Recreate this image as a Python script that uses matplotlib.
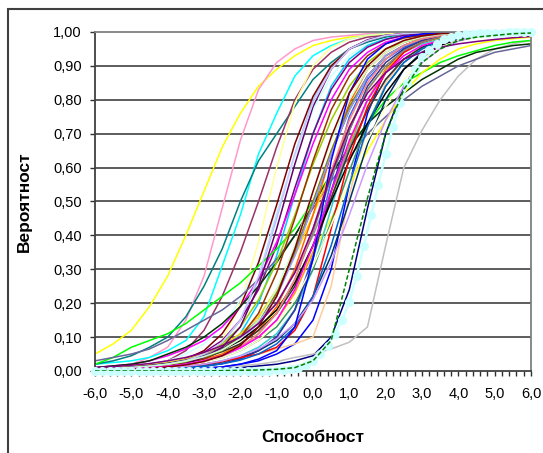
import matplotlib
matplotlib.use('Agg')
import matplotlib.pyplot as plt
from matplotlib.patches import Rectangle

# ability scale (categories of the chart), step 0.5 for the item curves
x_ability = [-6.0, -5.5, -5.0, -4.5, -4.0, -3.5, -3.0, -2.5, -2.0, -1.5, -1.0, -0.5, 0.0,
             0.5, 1.0, 1.5, 2.0, 2.5, 3.0, 3.5, 4.0, 4.5, 5.0, 5.5, 6.0]
# finer categories (step 0.2) for the curve with markers
x_fine = [-6.0, -5.8, -5.6, -5.4, -5.2, -5.0, -4.8, -4.6, -4.4, -4.2, -4.0, -3.8, -3.6, -3.4, -3.2,
          -3.0, -2.8, -2.6, -2.4, -2.2, -2.0, -1.8, -1.6, -1.4, -1.2, -1.0, -0.8, -0.6, -0.4, -0.2,
          0.0, 0.2, 0.4, 0.6, 0.8, 1.0, 1.2, 1.4, 1.6, 1.8, 2.0, 2.2, 2.4, 2.6, 2.8, 3.0, 3.2, 3.4,
          3.6, 3.8, 4.0, 4.2, 4.4, 4.6, 4.8, 5.0, 5.2, 5.4, 5.6, 5.8, 6.0]

x_tick_vals = [-6, -5, -4, -3, -2, -1, 0, 1, 2, 3, 4, 5, 6]
x_tick_labels = ['-6,0', '-5,0', '-4,0', '-3,0', '-2,0', '-1,0', '0,0',
                 '1,0', '2,0', '3,0', '4,0', '5,0', '6,0']
y_tick_vals = [0.0, 0.1, 0.2, 0.3, 0.4, 0.5, 0.6, 0.7, 0.8, 0.9, 1.0]
y_tick_labels = ['0,00', '0,10', '0,20', '0,30', '0,40', '0,50',
                 '0,60', '0,70', '0,80', '0,90', '1,00']

# item probabilities
item01 = [0.05, 0.08, 0.12, 0.19, 0.28, 0.40, 0.53, 0.66, 0.76, 0.84, 0.89, 0.93, 0.96, 0.975, 0.985, 0.99, 0.993, 0.995, 0.997, 0.998, 0.999, 1.0, 1.0, 1.0, 1.0]
item02 = [0.01, 0.015, 0.02, 0.04, 0.07, 0.15, 0.28, 0.48, 0.68, 0.83, 0.91, 0.95, 0.975, 0.985, 0.99, 0.995, 0.997, 0.998, 0.999, 1.0, 1.0, 1.0, 1.0, 1.0, 1.0]
item03 = [0.02, 0.025, 0.03, 0.04, 0.06, 0.09, 0.16, 0.31, 0.46, 0.64, 0.76, 0.87, 0.93, 0.96, 0.98, 0.99, 0.995, 0.997, 0.998, 0.999, 1.0, 1.0, 1.0, 1.0, 1.0]
item04 = [0.02, 0.03, 0.045, 0.07, 0.10, 0.16, 0.25, 0.36, 0.50, 0.62, 0.70, 0.78, 0.86, 0.91, 0.95, 0.97, 0.985, 0.99, 0.995, 0.997, 0.998, 0.999, 1.0, 1.0, 1.0]
item05 = [0.005, 0.008, 0.012, 0.02, 0.03, 0.06, 0.12, 0.22, 0.35, 0.50, 0.66, 0.80, 0.89, 0.94, 0.97, 0.985, 0.99, 0.995, 0.997, 0.998, 0.999, 1.0, 1.0, 1.0, 1.0]
item06 = [0.003, 0.004, 0.005, 0.007, 0.01, 0.02, 0.04, 0.09, 0.20, 0.38, 0.60, 0.79, 0.90, 0.955, 0.98, 0.99, 0.995, 0.997, 0.998, 1.0, 1.0, 1.0, 1.0, 1.0, 1.0]
item07 = [0.004, 0.005, 0.007, 0.01, 0.015, 0.025, 0.045, 0.08, 0.15, 0.27, 0.45, 0.64, 0.80, 0.90, 0.95, 0.975, 0.99, 0.995, 0.997, 0.998, 1.0, 1.0, 1.0, 1.0, 1.0]
item08 = [0.01, 0.012, 0.015, 0.02, 0.03, 0.05, 0.08, 0.13, 0.21, 0.32, 0.47, 0.63, 0.77, 0.87, 0.93, 0.965, 0.98, 0.99, 0.995, 0.997, 1.0, 1.0, 1.0, 1.0, 1.0]
item09 = [0.003, 0.005, 0.008, 0.012, 0.02, 0.035, 0.06, 0.11, 0.19, 0.32, 0.49, 0.67, 0.81, 0.90, 0.95, 0.975, 0.99, 0.995, 0.997, 0.998, 1.0, 1.0, 1.0, 1.0, 1.0]
item10 = [0.002, 0.003, 0.005, 0.008, 0.012, 0.02, 0.035, 0.06, 0.11, 0.20, 0.34, 0.52, 0.70, 0.84, 0.92, 0.96, 0.98, 0.99, 0.995, 0.997, 1.0, 1.0, 1.0, 1.0, 1.0]
item11 = [0.005, 0.007, 0.01, 0.015, 0.022, 0.035, 0.055, 0.09, 0.15, 0.24, 0.37, 0.54, 0.70, 0.83, 0.91, 0.955, 0.978, 0.99, 0.995, 0.997, 0.999, 1.0, 1.0, 1.0, 1.0]
item12 = [0.01, 0.015, 0.02, 0.03, 0.045, 0.065, 0.09, 0.13, 0.19, 0.27, 0.38, 0.52, 0.67, 0.80, 0.89, 0.94, 0.97, 0.985, 0.99, 0.995, 0.997, 0.998, 1.0, 1.0, 1.0]
item13 = [0.0, 0.0, 0.001, 0.002, 0.003, 0.005, 0.008, 0.012, 0.02, 0.03, 0.05, 0.08, 0.15, 0.30, 0.55, 0.76, 0.89, 0.95, 0.975, 0.99, 0.995, 0.998, 1.0, 1.0, 1.0]
item14 = [0.0, 0.0, 0.0, 0.001, 0.002, 0.003, 0.005, 0.007, 0.01, 0.015, 0.02, 0.03, 0.045, 0.10, 0.24, 0.48, 0.70, 0.84, 0.92, 0.96, 0.98, 0.99, 0.995, 0.997, 0.998]
item15 = [0.002, 0.003, 0.004, 0.006, 0.009, 0.013, 0.02, 0.03, 0.04, 0.05, 0.065, 0.08, 0.10, 0.25, 0.52, 0.72, 0.85, 0.92, 0.96, 0.98, 0.99, 0.995, 0.997, 0.998, 1.0]
item16 = [0.0, 0.0, 0.001, 0.002, 0.004, 0.006, 0.008, 0.012, 0.016, 0.02, 0.028, 0.04, 0.05, 0.065, 0.085, 0.13, 0.37, 0.60, 0.71, 0.80, 0.87, 0.92, 0.95, 0.965, 0.975]
item17 = [0.0, 0.0, 0.0, 0.0, 0.0, 0.0, 0.0, 0.001, 0.002, 0.003, 0.005, 0.01, 0.03, 0.09, 0.30, 0.51, 0.70, 0.83, 0.91, 0.95, 0.975, 0.985, 0.99, 0.995, 0.997]
item18 = [0.02, 0.04, 0.07, 0.09, 0.11, 0.14, 0.18, 0.22, 0.26, 0.31, 0.36, 0.42, 0.50, 0.58, 0.66, 0.73, 0.80, 0.85, 0.88, 0.91, 0.93, 0.945, 0.96, 0.97, 0.975]
item19 = [0.03, 0.04, 0.05, 0.065, 0.09, 0.12, 0.15, 0.18, 0.22, 0.27, 0.33, 0.40, 0.48, 0.56, 0.63, 0.70, 0.75, 0.80, 0.84, 0.87, 0.90, 0.92, 0.94, 0.95, 0.96]
item20 = [0.01, 0.015, 0.02, 0.03, 0.05, 0.07, 0.10, 0.14, 0.19, 0.25, 0.32, 0.40, 0.49, 0.58, 0.66, 0.73, 0.78, 0.82, 0.86, 0.89, 0.92, 0.94, 0.95, 0.96, 0.965]
item21 = [0.005, 0.007, 0.01, 0.013, 0.017, 0.023, 0.03, 0.05, 0.08, 0.12, 0.18, 0.26, 0.35, 0.45, 0.55, 0.65, 0.74, 0.82, 0.88, 0.92, 0.95, 0.965, 0.975, 0.98, 0.985]
item22 = [0.001, 0.002, 0.003, 0.004, 0.006, 0.009, 0.014, 0.022, 0.035, 0.06, 0.10, 0.18, 0.34, 0.56, 0.75, 0.86, 0.92, 0.955, 0.975, 0.985, 0.992, 0.996, 0.998, 1.0, 1.0]
item23 = [0.002, 0.003, 0.004, 0.006, 0.009, 0.013, 0.02, 0.03, 0.045, 0.07, 0.11, 0.18, 0.30, 0.48, 0.66, 0.80, 0.89, 0.94, 0.965, 0.98, 0.99, 0.995, 0.998, 1.0, 1.0]
item24 = [0.005, 0.007, 0.01, 0.015, 0.022, 0.033, 0.05, 0.08, 0.13, 0.21, 0.32, 0.46, 0.61, 0.74, 0.84, 0.91, 0.95, 0.97, 0.983, 0.99, 0.995, 0.998, 1.0, 1.0, 1.0]
item25 = [0.008, 0.01, 0.013, 0.018, 0.025, 0.035, 0.05, 0.075, 0.11, 0.16, 0.24, 0.34, 0.46, 0.59, 0.72, 0.83, 0.90, 0.945, 0.97, 0.983, 0.991, 0.995, 0.998, 1.0, 1.0]
item26 = [0.003, 0.004, 0.006, 0.009, 0.013, 0.02, 0.03, 0.045, 0.07, 0.10, 0.15, 0.23, 0.35, 0.51, 0.67, 0.80, 0.89, 0.94, 0.97, 0.985, 0.992, 0.996, 0.998, 1.0, 1.0]
item27 = [0.004, 0.005, 0.007, 0.01, 0.015, 0.022, 0.034, 0.05, 0.08, 0.12, 0.19, 0.30, 0.46, 0.64, 0.79, 0.89, 0.94, 0.97, 0.985, 0.992, 0.996, 0.998, 1.0, 1.0, 1.0]
item28 = [0.006, 0.008, 0.011, 0.016, 0.023, 0.033, 0.048, 0.07, 0.10, 0.14, 0.20, 0.29, 0.40, 0.53, 0.66, 0.77, 0.86, 0.92, 0.955, 0.975, 0.987, 0.993, 0.997, 0.999, 1.0]
item29 = [0.001, 0.002, 0.003, 0.005, 0.008, 0.012, 0.018, 0.027, 0.04, 0.06, 0.09, 0.14, 0.22, 0.34, 0.50, 0.67, 0.80, 0.89, 0.94, 0.97, 0.985, 0.992, 0.996, 0.998, 1.0]
item30 = [0.003, 0.004, 0.006, 0.009, 0.013, 0.019, 0.028, 0.04, 0.06, 0.09, 0.13, 0.20, 0.30, 0.44, 0.59, 0.73, 0.84, 0.91, 0.95, 0.975, 0.987, 0.993, 0.997, 0.999, 1.0]
item31 = [0.004, 0.006, 0.009, 0.013, 0.019, 0.028, 0.042, 0.065, 0.10, 0.15, 0.23, 0.35, 0.49, 0.64, 0.77, 0.87, 0.93, 0.96, 0.98, 0.99, 0.995, 0.998, 1.0, 1.0, 1.0]
item32 = [0.003, 0.004, 0.006, 0.009, 0.014, 0.022, 0.035, 0.06, 0.10, 0.17, 0.29, 0.45, 0.62, 0.77, 0.87, 0.93, 0.965, 0.982, 0.991, 0.996, 0.998, 1.0, 1.0, 1.0, 1.0]
item33 = [0.001, 0.002, 0.003, 0.004, 0.006, 0.009, 0.014, 0.022, 0.036, 0.06, 0.10, 0.18, 0.33, 0.53, 0.71, 0.84, 0.91, 0.95, 0.975, 0.988, 0.994, 0.997, 0.999, 1.0, 1.0]
item34 = [0.005, 0.007, 0.01, 0.014, 0.02, 0.028, 0.04, 0.057, 0.08, 0.12, 0.17, 0.25, 0.37, 0.51, 0.65, 0.77, 0.86, 0.92, 0.955, 0.975, 0.987, 0.993, 0.997, 0.999, 1.0]
item35 = [0.006, 0.008, 0.011, 0.016, 0.022, 0.031, 0.044, 0.062, 0.09, 0.13, 0.18, 0.26, 0.37, 0.50, 0.62, 0.73, 0.82, 0.89, 0.935, 0.96, 0.977, 0.987, 0.993, 0.997, 1.0]
item36 = [0.003, 0.004, 0.005, 0.007, 0.01, 0.014, 0.02, 0.028, 0.04, 0.05, 0.07, 0.12, 0.22, 0.42, 0.63, 0.78, 0.88, 0.94, 0.97, 0.985, 0.993, 0.997, 0.999, 1.0, 1.0]
item37 = [0.004, 0.006, 0.008, 0.012, 0.018, 0.027, 0.04, 0.06, 0.095, 0.15, 0.23, 0.35, 0.50, 0.65, 0.78, 0.87, 0.93, 0.96, 0.98, 0.99, 0.995, 0.998, 1.0, 1.0, 1.0]
item38 = [0.003, 0.004, 0.006, 0.009, 0.013, 0.02, 0.03, 0.045, 0.07, 0.11, 0.17, 0.27, 0.41, 0.57, 0.71, 0.83, 0.90, 0.945, 0.97, 0.985, 0.992, 0.996, 0.998, 1.0, 1.0]
item39 = [0.006, 0.008, 0.011, 0.015, 0.021, 0.03, 0.043, 0.063, 0.095, 0.14, 0.22, 0.34, 0.49, 0.64, 0.77, 0.87, 0.93, 0.96, 0.98, 0.99, 0.995, 0.998, 1.0, 1.0, 1.0]
item40 = [0.002, 0.003, 0.005, 0.008, 0.012, 0.018, 0.027, 0.04, 0.06, 0.09, 0.14, 0.21, 0.31, 0.43, 0.56, 0.68, 0.78, 0.86, 0.92, 0.955, 0.975, 0.985, 0.99, 0.994, 0.996]
item41 = [0.002, 0.003, 0.005, 0.008, 0.013, 0.022, 0.04, 0.07, 0.13, 0.25, 0.42, 0.61, 0.78, 0.89, 0.95, 0.977, 0.99, 0.995, 1.0, 1.0, 1.0, 1.0, 1.0, 1.0, 1.0]
item42 = [0.003, 0.004, 0.006, 0.009, 0.013, 0.02, 0.03, 0.046, 0.07, 0.11, 0.17, 0.27, 0.42, 0.59, 0.74, 0.85, 0.92, 0.96, 0.98, 0.99, 0.995, 0.998, 1.0, 1.0, 1.0]
item43 = [0.001, 0.002, 0.003, 0.004, 0.006, 0.009, 0.014, 0.021, 0.032, 0.05, 0.08, 0.13, 0.22, 0.37, 0.55, 0.72, 0.84, 0.91, 0.95, 0.975, 0.988, 0.994, 0.997, 0.999, 1.0]
item44 = [0.004, 0.006, 0.009, 0.013, 0.02, 0.03, 0.05, 0.085, 0.15, 0.28, 0.46, 0.64, 0.79, 0.89, 0.95, 0.975, 0.99, 0.995, 0.998, 1.0, 1.0, 1.0, 1.0, 1.0, 1.0]
item45 = [0.003, 0.004, 0.005, 0.007, 0.01, 0.014, 0.02, 0.03, 0.044, 0.065, 0.095, 0.14, 0.21, 0.32, 0.46, 0.61, 0.74, 0.84, 0.91, 0.95, 0.973, 0.986, 0.993, 0.997, 1.0]
item46 = [0.005, 0.007, 0.01, 0.014, 0.02, 0.029, 0.042, 0.062, 0.095, 0.15, 0.24, 0.37, 0.53, 0.68, 0.80, 0.89, 0.94, 0.97, 0.985, 0.993, 0.997, 0.999, 1.0, 1.0, 1.0]
item47 = [0.0, 0.001, 0.001, 0.002, 0.003, 0.005, 0.008, 0.012, 0.02, 0.035, 0.06, 0.13, 0.33, 0.62, 0.82, 0.92, 0.965, 0.985, 0.994, 0.998, 1.0, 1.0, 1.0, 1.0, 1.0]
item48 = [0.004, 0.005, 0.007, 0.01, 0.014, 0.02, 0.03, 0.045, 0.068, 0.10, 0.15, 0.24, 0.37, 0.53, 0.68, 0.80, 0.88, 0.93, 0.96, 0.975, 0.985, 0.99, 0.994, 0.997, 0.999]
item49 = [0.002, 0.003, 0.005, 0.008, 0.012, 0.018, 0.028, 0.045, 0.075, 0.13, 0.22, 0.36, 0.53, 0.69, 0.82, 0.90, 0.95, 0.975, 0.988, 0.995, 0.998, 1.0, 1.0, 1.0, 1.0]
item50 = [0.01, 0.013, 0.017, 0.022, 0.03, 0.04, 0.055, 0.075, 0.10, 0.14, 0.20, 0.29, 0.42, 0.58, 0.72, 0.82, 0.88, 0.92, 0.94, 0.955, 0.965, 0.972, 0.978, 0.983, 0.987]

# the curve drawn with round markers (step 0.2)
marked_curve = [0.0] * 25 + [0.002, 0.004, 0.006, 0.01, 0.018, 0.03, 0.05, 0.075, 0.11, 0.15, 0.205,
                             0.28, 0.37, 0.46, 0.55, 0.64, 0.72, 0.79, 0.85, 0.89, 0.925, 0.947,
                             0.965, 0.978, 0.985, 0.99, 0.993, 0.995, 0.996, 0.997, 0.998, 0.998,
                             0.999, 0.999, 0.999, 1.0]

items = [item01, item02, item03, item04, item05, item06, item07, item08, item09, item10,
         item11, item12, item13, item14, item15, item16, item18, item19, item20, item21,
         item22, item23, item24, item25, item26, item27, item28, item29, item30, item31,
         item32, item33, item34, item35, item36, item37, item38, item39, item40, item41,
         item42, item43, item44, item45, item46, item47, item48, item49, item50]
colors = ['#FFFF00', '#FF99CC', '#00FFFF', '#008080', '#993366', '#FFFF99', '#99CCFF', '#CCFFFF',
          '#800000', '#00CCFF', '#800080', '#FF00FF', '#0000FF', '#000080', '#FFCC99', '#C0C0C0',
          '#00FF00', '#666699', '#003300', '#FFFF00', '#3366FF', '#33CCCC', '#99CC00', '#FFCC00',
          '#FF9900', '#FF6600', '#969696', '#003366', '#339966', '#333300', '#993300', '#333399',
          '#333333', '#000000', '#FF0000', '#808000', '#808080', '#9999FF', '#FFFFCC', '#660066',
          '#FF8080', '#0066CC', '#CCCCFF', '#CC99FF', '#CCFFCC', '#0000FF', '#FF00FF', '#800000',
          '#800080']

plt.rcParams['font.family'] = ['Liberation Sans', 'DejaVu Sans']

fig = plt.figure(figsize=(5.43, 4.53), dpi=100)
ax = fig.add_axes([95 / 543, 1 - 371 / 453, 436 / 543, 339 / 453])

# outer chart frame (right and bottom edges fall outside the picture)
fig.patches.append(Rectangle((8 / 543, -0.2), 2.0, 1.2 - 9 / 453, transform=fig.transFigure,
                             fill=False, edgecolor='#404040', linewidth=1.5))

for yv in y_tick_vals[1:-1]:
    ax.axhline(yv, color='#303030', linewidth=1.1, zorder=0)

for vals, col in zip(items, colors):
    ax.plot(x_ability, vals, color=col, linewidth=1.1, zorder=2)

ax.plot(x_fine, marked_curve, color='#CCFFFF', linewidth=1.8, marker='o', markersize=5.5,
        markerfacecolor='#CCFFFF', markeredgecolor='#CCFFFF', zorder=3, clip_on=False)
ax.plot(x_ability, item17, color='#008000', linewidth=1.1, linestyle=(0, (3, 1.5)), zorder=4)

ax.set_xlim(-6, 6)
ax.set_ylim(0, 1)
ax.set_xticks(x_tick_vals)
ax.set_xticklabels(x_tick_labels)
ax.set_xticks(x_fine, minor=True)
ax.set_yticks(y_tick_vals)
ax.set_yticklabels(y_tick_labels)
ax.tick_params(axis='both', which='both', direction='out', length=3.5, width=1, color='#303030',
               labelsize=10.5)
ax.tick_params(axis='x', pad=8)
ax.tick_params(axis='y', pad=6)

for side in ['left', 'bottom']:
    ax.spines[side].set_color('#404040')
    ax.spines[side].set_linewidth(1.3)
for side in ['top', 'right']:
    ax.spines[side].set_color('#808080')
    ax.spines[side].set_linewidth(1.3)

ax.set_xlabel('Способност', fontsize=12.5, fontweight='bold', labelpad=21)
ax.set_ylabel('Вероятност', fontsize=12.5, fontweight='bold', labelpad=15)

fig.savefig('out.png', dpi=100)
